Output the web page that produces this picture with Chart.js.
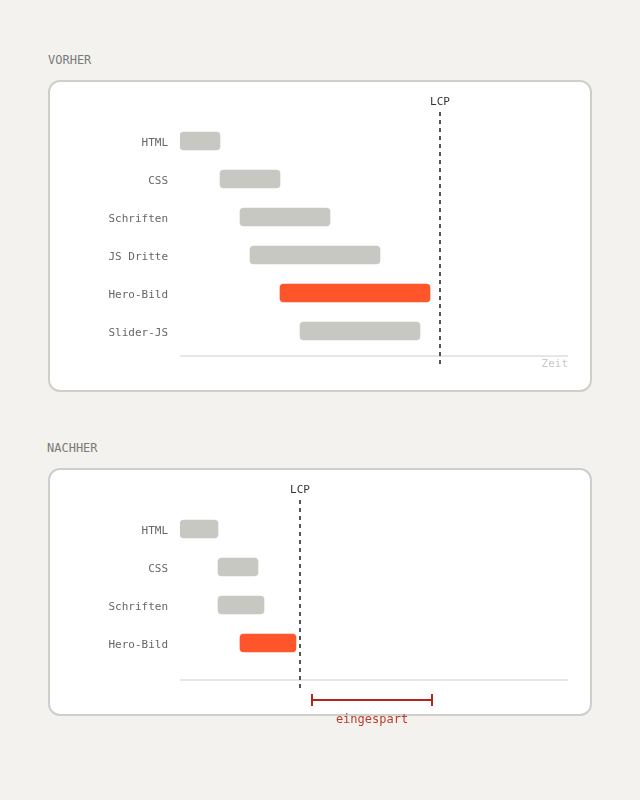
<!DOCTYPE html>
<html>
<head>
<meta charset="utf-8">
<script src="https://cdn.jsdelivr.net/npm/chart.js@4"></script>
<style>
  body { margin: 0; background: #f3f2ee; width: 640px; height: 800px; position: relative; overflow: hidden; }
  .title { position: absolute; font: 12px "DejaVu Sans Mono", monospace; color: #7a7a7a; }
  .panel { position: absolute; left: 48px; width: 540px; background: #fff; border: 2px solid #cfcfca; border-radius: 12px; }
  canvas { position: absolute; left: 48px; }
</style>
</head>
<body>
<div class="title" style="left:48px; top:53px;">VORHER</div>
<div class="panel" style="top:80px; height:308px;"></div>
<canvas id="chart-before" width="544" height="312" style="top:80px;"></canvas>

<div class="title" style="left:47px; top:441px;">NACHHER</div>
<div class="panel" style="top:468px; height:244px;"></div>
<canvas id="chart-after" width="544" height="272" style="top:468px;"></canvas>

<script>
// data (ms)
const beforeLabels = ["HTML", "CSS", "Schriften", "JS Dritte", "Hero-Bild", "Slider-JS"];
const beforeStart = [0, 400, 600, 700, 1000, 1200];
const beforeEnd = [400, 1000, 1500, 2000, 2500, 2400];
const beforeLcp = 2600;

const afterLabels = ["HTML", "CSS", "Schriften", "Hero-Bild"];
const afterStart = [0, 380, 380, 600];
const afterEnd = [380, 780, 840, 1160];
const afterLcp = 1200;
const savedRange = [1320, 2520];

const timeMax = 3880;
const highlight = "Hero-Bild";

const grey = '#c8c8c3';
const orange = '#ff552b';
const mono = '"DejaVu Sans Mono", monospace';

// lines, labels, bracket
const extras = {
    id: 'extras',
    afterDatasetsDraw(chart, args, opts) {
        const ctx = chart.ctx;
        const xs = chart.scales.x;
        const area = chart.chartArea;
        ctx.save();

        // time axis
        const axisY = area.bottom + opts.axisGap;
        ctx.strokeStyle = '#e6e6e3';
        ctx.lineWidth = 2;
        ctx.beginPath();
        ctx.moveTo(xs.left, axisY);
        ctx.lineTo(xs.right, axisY);
        ctx.stroke();

        if (opts.showZeit) {
            ctx.fillStyle = '#c8c8c8';
            ctx.font = '11px ' + mono;
            ctx.textAlign = 'right';
            ctx.textBaseline = 'middle';
            ctx.fillText('Zeit', xs.right, axisY + 8);
        }

        // LCP marker
        const lx = Math.round(xs.getPixelForValue(opts.lcp));
        ctx.strokeStyle = '#555';
        ctx.lineWidth = 2;
        ctx.setLineDash([4, 4]);
        ctx.beginPath();
        ctx.moveTo(lx, area.top - 10);
        ctx.lineTo(lx, area.bottom + opts.lcpBelow);
        ctx.stroke();
        ctx.setLineDash([]);
        ctx.fillStyle = '#333';
        ctx.font = '11px ' + mono;
        ctx.textAlign = 'center';
        ctx.textBaseline = 'middle';
        ctx.fillText('LCP', lx, area.top - 20);

        // saved time bracket
        if (opts.saved) {
            const x1 = xs.getPixelForValue(opts.saved[0]);
            const x2 = xs.getPixelForValue(opts.saved[1]);
            const by = area.bottom + 38;
            ctx.strokeStyle = '#b3261a';
            ctx.lineWidth = 2;
            ctx.beginPath();
            ctx.moveTo(x1, by); ctx.lineTo(x2, by);
            ctx.moveTo(x1, by - 6); ctx.lineTo(x1, by + 6);
            ctx.moveTo(x2, by - 6); ctx.lineTo(x2, by + 6);
            ctx.stroke();
            ctx.fillStyle = '#c0392b';
            ctx.font = '12px ' + mono;
            ctx.fillText('eingespart', (x1 + x2) / 2, by + 20);
        }
        ctx.restore();
    }
};

function makeChart(canvas, labels, starts, ends, extraOpts, padBottom) {
    return new Chart(canvas, {
        type: 'bar',
        data: {
            labels: labels,
            datasets: [{
                data: labels.map((l, i) => [starts[i], ends[i]]),
                backgroundColor: labels.map(l => l === highlight ? orange : grey),
                borderRadius: 4,
                borderSkipped: false,
                barThickness: 18
            }]
        },
        options: {
            indexAxis: 'y',
            responsive: false,
            animation: false,
            layout: { padding: { left: 0, right: 24, top: 42, bottom: padBottom } },
            scales: {
                x: { display: false, min: 0, max: timeMax },
                y: {
                    afterFit: s => { s.width = 132; },
                    grid: { display: false, drawTicks: false },
                    border: { display: false },
                    ticks: { color: '#666', padding: 12, labelOffset: 2, font: { family: mono, size: 11 } }
                }
            },
            plugins: {
                legend: { display: false },
                tooltip: { enabled: false },
                extras: extraOpts
            }
        },
        plugins: [extras]
    });
}

let beforeChart = makeChart(document.getElementById('chart-before'), beforeLabels, beforeStart, beforeEnd,
    { lcp: beforeLcp, axisGap: 6, lcpBelow: 14, showZeit: true }, 42);

let afterChart = makeChart(document.getElementById('chart-after'), afterLabels, afterStart, afterEnd,
    { lcp: afterLcp, axisGap: 18, lcpBelow: 26, showZeit: false, saved: savedRange }, 78);
</script>
</body>
</html>
